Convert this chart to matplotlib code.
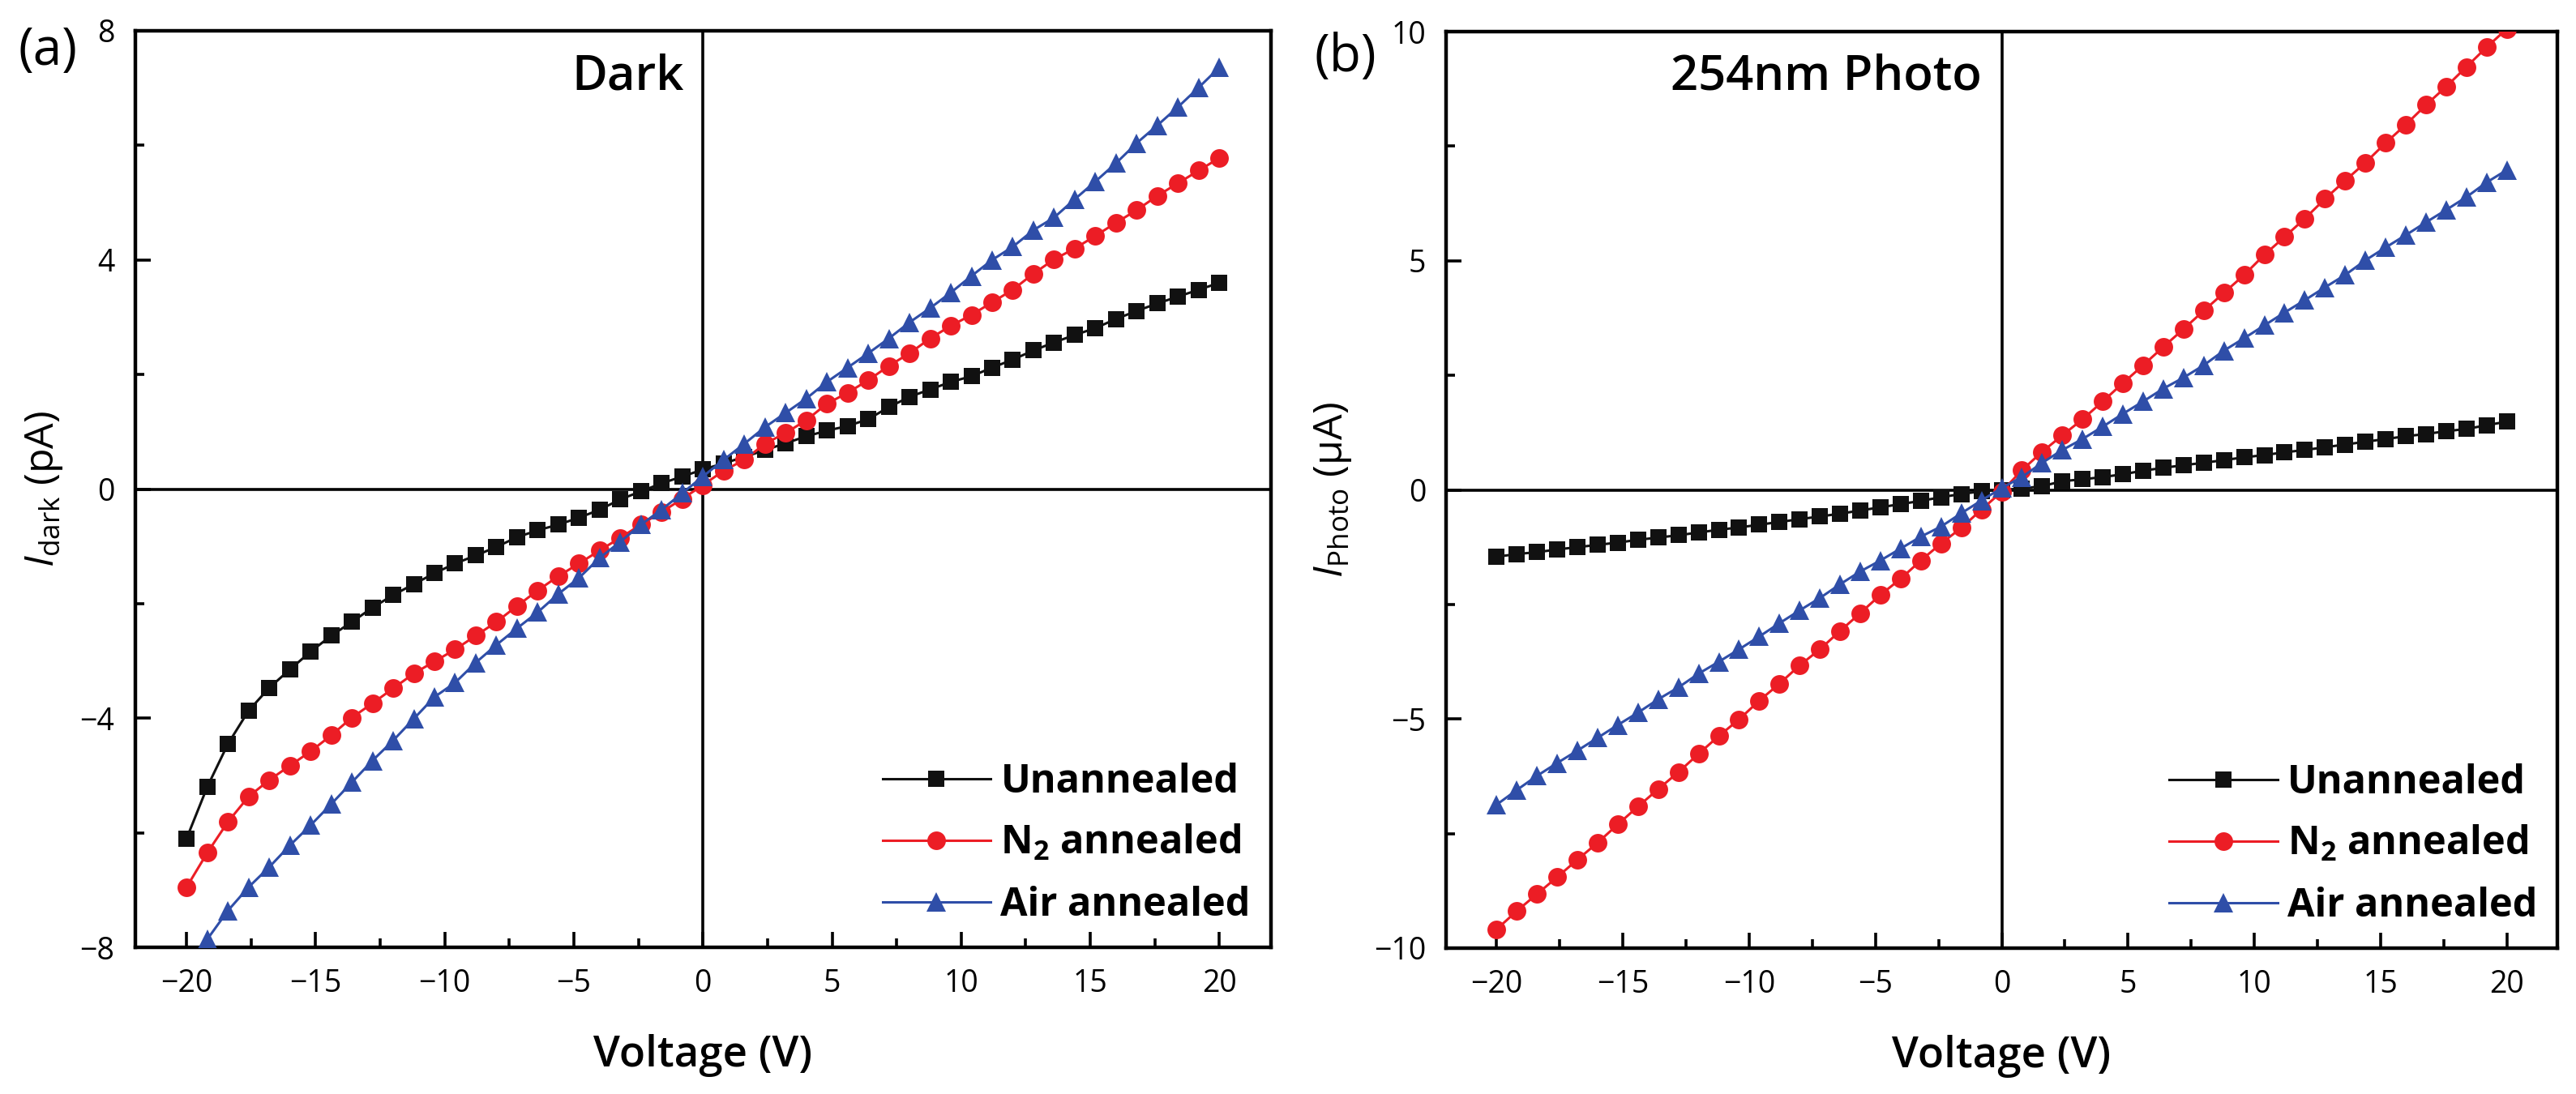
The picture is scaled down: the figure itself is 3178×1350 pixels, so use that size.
import matplotlib
matplotlib.use("Agg")
import matplotlib.pyplot as plt
from matplotlib.ticker import MultipleLocator

plt.rcParams['font.family'] = ['Open Sans', 'DejaVu Sans']
plt.rcParams['mathtext.fontset'] = 'custom'
plt.rcParams['mathtext.rm'] = 'Open Sans'
plt.rcParams['mathtext.it'] = 'Open Sans:italic'
plt.rcParams['mathtext.bf'] = 'Open Sans:bold'

# ---------------- data ----------------
voltage = [-20.0, -19.2, -18.4, -17.6, -16.8, -16.0, -15.2, -14.4, -13.6, -12.8,
           -12.0, -11.2, -10.4, -9.6, -8.8, -8.0, -7.2, -6.4, -5.6, -4.8,
           -4.0, -3.2, -2.4, -1.6, -0.8, 0.0, 0.8, 1.6, 2.4, 3.2,
           4.0, 4.8, 5.6, 6.4, 7.2, 8.0, 8.8, 9.6, 10.4, 11.2,
           12.0, 12.8, 13.6, 14.4, 15.2, 16.0, 16.8, 17.6, 18.4, 19.2, 20.0]

series_labels = ['Unannealed', r'N$_{\mathbf{2}}$ annealed', 'Air annealed']

# (a) dark current, pA
dark_unannealed = [-6.10, -5.20, -4.45, -3.87, -3.47, -3.15, -2.84, -2.56, -2.32, -2.07,
                   -1.85, -1.66, -1.47, -1.30, -1.16, -1.01, -0.84, -0.72, -0.62, -0.50,
                   -0.36, -0.18, -0.04, 0.10, 0.22, 0.34, 0.45, 0.56, 0.68, 0.80,
                   0.92, 1.02, 1.10, 1.22, 1.43, 1.61, 1.74, 1.87, 1.97, 2.12,
                   2.26, 2.42, 2.56, 2.69, 2.81, 2.97, 3.11, 3.24, 3.36, 3.48, 3.60]
dark_n2 = [-6.95, -6.35, -5.81, -5.37, -5.08, -4.83, -4.58, -4.30, -3.99, -3.74,
           -3.48, -3.22, -3.01, -2.80, -2.56, -2.32, -2.04, -1.77, -1.52, -1.30,
           -1.07, -0.85, -0.62, -0.40, -0.17, 0.07, 0.32, 0.51, 0.79, 0.98,
           1.20, 1.49, 1.68, 1.90, 2.15, 2.37, 2.63, 2.85, 3.04, 3.26,
           3.48, 3.76, 4.01, 4.20, 4.42, 4.65, 4.87, 5.12, 5.34, 5.56, 5.78]
dark_air = [-8.35, -7.86, -7.36, -6.95, -6.60, -6.22, -5.87, -5.50, -5.12, -4.74,
            -4.39, -4.01, -3.63, -3.38, -3.03, -2.72, -2.43, -2.15, -1.83, -1.55,
            -1.20, -0.92, -0.62, -0.36, -0.07, 0.22, 0.51, 0.79, 1.08, 1.33,
            1.58, 1.87, 2.12, 2.37, 2.63, 2.91, 3.16, 3.43, 3.72, 4.00,
            4.23, 4.52, 4.74, 5.06, 5.37, 5.69, 6.04, 6.35, 6.67, 7.01, 7.36]

# (b) 254 nm photocurrent, uA
photo_unannealed = [-1.46, -1.40, -1.36, -1.30, -1.25, -1.20, -1.15, -1.09, -1.04, -0.99,
                    -0.93, -0.87, -0.82, -0.76, -0.70, -0.64, -0.58, -0.52, -0.45, -0.38,
                    -0.31, -0.24, -0.16, -0.09, -0.03, 0.00, 0.03, 0.08, 0.19, 0.23,
                    0.28, 0.34, 0.42, 0.48, 0.54, 0.59, 0.65, 0.71, 0.76, 0.82,
                    0.87, 0.93, 0.99, 1.05, 1.11, 1.17, 1.22, 1.28, 1.33, 1.41, 1.49]
photo_n2 = [-9.59, -9.19, -8.82, -8.45, -8.07, -7.70, -7.30, -6.91, -6.53, -6.16,
            -5.76, -5.37, -5.01, -4.60, -4.23, -3.83, -3.48, -3.08, -2.69, -2.29,
            -1.94, -1.54, -1.17, -0.83, -0.43, -0.04, 0.43, 0.83, 1.19, 1.54,
            1.93, 2.33, 2.72, 3.12, 3.51, 3.91, 4.30, 4.69, 5.13, 5.52,
            5.92, 6.35, 6.75, 7.14, 7.57, 7.97, 8.40, 8.80, 9.23, 9.66, 10.06]
photo_air = [-6.87, -6.55, -6.24, -5.96, -5.69, -5.41, -5.13, -4.86, -4.57, -4.31,
             -4.01, -3.75, -3.48, -3.20, -2.91, -2.63, -2.36, -2.06, -1.78, -1.54,
             -1.28, -1.02, -0.80, -0.51, -0.23, 0.04, 0.28, 0.59, 0.87, 1.11,
             1.38, 1.66, 1.93, 2.21, 2.45, 2.72, 3.04, 3.31, 3.59, 3.87,
             4.14, 4.42, 4.69, 5.01, 5.29, 5.56, 5.84, 6.11, 6.39, 6.71, 6.98]

# ---------------- styling ----------------
colors = ['#111111', '#EC1D25', '#2F4EA8']
markers = ['s', 'o', '^']
msizes = [14, 16.5, 17.5]

W, H = 3178, 1350
fig = plt.figure(figsize=(W / 100, H / 100), dpi=100)
ax1 = fig.add_axes([166.5 / W, 1 - 1169 / H, (1568 - 166.5) / W, (1169 - 38) / H])
ax2 = fig.add_axes([1784 / W, 1 - 1170 / H, (3155 - 1784) / W, (1170 - 39) / H])


def draw(ax, ys, ylim, ymaj, ymin_, ylabel, title, title_x, title_y, ylab_x):
    for y, c, m, ms, lab in zip(ys, colors, markers, msizes, series_labels):
        ax.plot(voltage, y, color=c, marker=m, markersize=ms, markeredgewidth=0,
                lw=2.2, label=lab, zorder=3)
    ax.axhline(0, color='black', lw=2.6, zorder=1)
    ax.axvline(0, color='black', lw=2.6, zorder=1)
    ax.set_xlim(-22, 22)
    ax.set_ylim(*ylim)
    ax.xaxis.set_major_locator(MultipleLocator(5))
    ax.xaxis.set_minor_locator(MultipleLocator(2.5))
    ax.yaxis.set_major_locator(MultipleLocator(ymaj))
    ax.yaxis.set_minor_locator(MultipleLocator(ymin_))
    ax.tick_params(which='both', direction='in', top=False, right=False, width=2.6)
    ax.tick_params(which='major', length=14, labelsize=27)
    ax.tick_params(which='minor', length=8)
    ax.tick_params(axis='x', which='major', pad=19)
    ax.tick_params(axis='y', which='major', pad=18)
    for s in ax.spines.values():
        s.set_linewidth(3.2)
    ax.set_xlabel('Voltage (V)', fontsize=38, fontweight='semibold')
    ax.xaxis.set_label_coords(0.5, -0.095)
    ax.set_ylabel(ylabel, fontsize=36)
    ax.yaxis.set_label_coords(ylab_x, 0.5)
    ax.text(title_x, title_y, title, transform=ax.transAxes, ha='right',
            va='baseline', fontsize=43, fontweight='semibold')
    ax.legend(loc='lower right', bbox_to_anchor=(0.982, 0.024), frameon=False,
              prop={'size': 35, 'weight': 'bold'}, handlelength=2.75,
              handletextpad=0.25, labelspacing=0.55, borderpad=0,
              borderaxespad=0)


draw(ax1, [dark_unannealed, dark_n2, dark_air], (-8, 8), 4, 2,
     r'$I_{\mathrm{dark}}$ (pA)', 'Dark', 0.4834, 0.9355, -0.0617)
draw(ax2, [photo_unannealed, photo_n2, photo_air], (-10, 10), 5, 2.5,
     r'$I_{\mathrm{Photo}}$ (μA)', '254nm Photo', 0.482, 0.9366, -0.0832)

fig.text(59 / W, 1 - 63 / H, '(a)', ha='center', va='center', fontsize=46)
fig.text(1660 / W, 1 - 71 / H, '(b)', ha='center', va='center', fontsize=46)

fig.savefig('out.png', dpi=100)
